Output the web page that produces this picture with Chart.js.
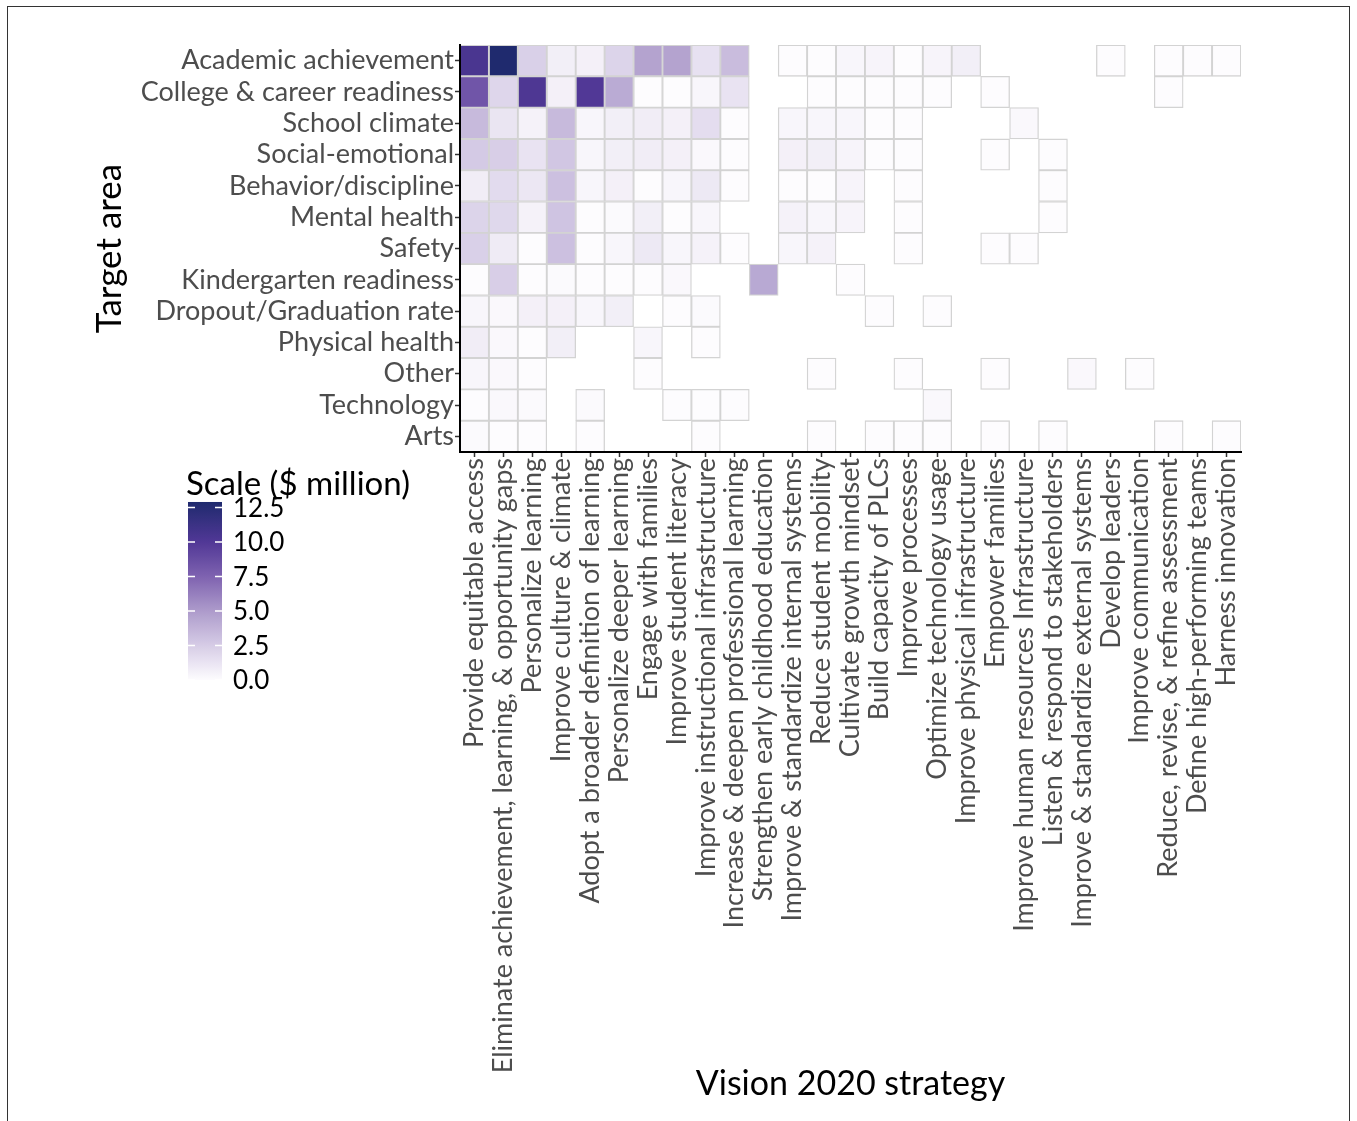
<!DOCTYPE html>
<html>
<head>
<meta charset="utf-8">
<script src="https://cdn.jsdelivr.net/npm/chart.js@4.4.1/dist/chart.umd.min.js"></script>
<style>
  html, body { margin: 0; padding: 0; background: #fff; }
  #wrap { position: relative; width: 1357px; height: 1121px; overflow: hidden; }
  #frame { position: absolute; left: 7px; top: 6px; width: 1343px; height: 1140px;
           border: 1.5px solid #333; box-sizing: border-box; pointer-events: none; }
  canvas { position: absolute; left: 0; top: 0; }
</style>
</head>
<body>
<div id="wrap">
  <canvas id="heat" width="1357" height="1121"></canvas>
  <div id="frame"></div>
</div>
<script>
const strategies = [
  'Provide equitable access',
  'Eliminate achievement, learning, & opportunity gaps',
  'Personalize learning',
  'Improve culture & climate',
  'Adopt a broader definition of learning',
  'Personalize deeper learning',
  'Engage with families',
  'Improve student literacy',
  'Improve instructional infrastructure',
  'Increase & deepen professional learning',
  'Strengthen early childhood education',
  'Improve & standardize internal systems',
  'Reduce student mobility',
  'Cultivate growth mindset',
  'Build capacity of PLCs',
  'Improve processes',
  'Optimize technology usage',
  'Improve physical infrastructure',
  'Empower families',
  'Improve human resources Infrastructure',
  'Listen & respond to stakeholders',
  'Improve & standardize external systems',
  'Develop leaders',
  'Improve communication',
  'Reduce, revise, & refine assessment',
  'Define high-performing teams',
  'Harness innovation'
];

const targetAreas = [
  'Academic achievement', 'College & career readiness', 'School climate',
  'Social-emotional', 'Behavior/discipline', 'Mental health', 'Safety',
  'Kindergarten readiness', 'Dropout/Graduation rate', 'Physical health',
  'Other', 'Technology', 'Arts'
];

// $ million per strategy (same order as strategies), _ = no spending recorded
const _ = null;
const academic     = [10.4, 12.9, 2.3, 0.7, 0.6, 2.1, 4.6, 4.6, 1.4, 3.3, _, 0, 0, 0.3, 0.4, 0, 0.4, 0.7, _, _, _, _, 0, _, 0, 0, 0];
const college      = [8.3, 2.0, 10.2, 0.6, 10.0, 4.2, 0, 0, 0.3, 1.3, _, _, 0, 0, 0, 0, 0, _, 0, _, _, _, _, _, 0, _, _];
const climate      = [3.4, 1.2, 0.5, 3.4, 0.3, 0.7, 0.8, 0.6, 1.6, 0, _, 0.3, 0.3, 0.3, 0, 0, _, _, _, 0.2, _, _, _, _, _, _, _];
const socialEmo    = [2.6, 2.4, 1.3, 2.8, 0.3, 0.7, 0.8, 0.6, 0.2, 0, _, 0.6, 0.7, 0.4, 0, 0, _, _, 0, _, 0, _, _, _, _, _, _];
const behavior     = [0.8, 1.7, 1.1, 3.1, 0.3, 0.6, 0, 0.3, 1.0, 0, _, 0, 0, 0.4, _, 0, _, _, _, _, 0, _, _, _, _, _, _];
const mental       = [2.1, 1.9, 0.5, 2.9, 0, 0.1, 0.7, 0, 0.3, _, _, 0.5, 0.3, 0.4, _, 0, _, _, _, _, 0, _, _, _, _, _, _];
const safety       = [2.3, 0.9, 0, 3.1, 0, 0.3, 1.0, 0.3, 0.5, 0, _, 0.3, 0.5, _, _, 0, _, _, 0, 0, _, _, _, _, _, _, _];
const kindergarten = [0, 2.4, 0, 0.1, 0, 0, 0, 0.2, _, _, 4.3, _, _, 0, _, _, _, _, _, _, _, _, _, _, _, _, _];
const dropout      = [0.3, 0.2, 0.6, 0.6, 0.3, 0.7, _, 0, 0.1, _, _, _, _, _, 0, _, 0, _, _, _, _, _, _, _, _, _, _];
const physical     = [0.8, 0.2, 0, 0.7, _, _, 0.3, _, 0, _, _, _, _, _, _, _, _, _, _, _, _, _, _, _, _, _, _];
const other        = [0.3, 0.2, 0, _, _, _, 0, _, _, _, _, _, 0, _, _, 0, _, _, 0, _, _, 0.2, _, 0, _, _, _];
const technology   = [0, 0.2, 0.1, _, 0.1, _, _, 0, 0, 0, _, _, _, _, _, _, 0.2, _, _, _, _, _, _, _, _, _, _];
const arts         = [0.1, 0, 0, _, 0, _, _, _, 0, _, _, _, 0, _, 0, 0, 0, _, 0, _, 0, _, _, _, 0, _, 0];

const rowSeries = [academic, college, climate, socialEmo, behavior, mental, safety,
                   kindergarten, dropout, physical, other, technology, arts];

const scaleTicks = [0, 2.5, 5, 7.5, 10, 12.5];

// fill gradient, low -> high
const colorStops = [
  [0, '#fdfcfe'], [2.5, '#d6cce6'], [5, '#ad9bcb'],
  [7.5, '#7e62b0'], [10, '#513896'], [12.9, '#1f2a6e']
];

function hexRgb(h) {
  return [1, 3, 5].map(i => parseInt(h.slice(i, i + 2), 16));
}
function fillFor(v) {
  for (let i = 1; i < colorStops.length; i++) {
    const [v0, c0] = colorStops[i - 1];
    const [v1, c1] = colorStops[i];
    if (v <= v1 || i === colorStops.length - 1) {
      const t = Math.max(0, Math.min(1, (v - v0) / (v1 - v0)));
      const a = hexRgb(c0), b = hexRgb(c1);
      const m = a.map((x, k) => Math.round(x + (b[k] - x) * t));
      return `rgb(${m[0]},${m[1]},${m[2]})`;
    }
  }
}

const maxVal = Math.max(...rowSeries.flat().filter(v => v !== null));

const datasets = rowSeries.map((vals, r) => ({
  label: targetAreas[r],
  data: vals.map(v => v === null ? null : [r, r + 1]),
  backgroundColor: vals.map(v => v === null ? 'rgba(0,0,0,0)' : fillFor(v)),
  borderColor: '#d3d3d3',
  borderWidth: 1.3,
  borderSkipped: false,
  barPercentage: 1,
  categoryPercentage: 1,
  grouped: false
}));

// colour bar legend, drawn beside the x labels like ggplot does
const colorBar = {
  id: 'colorBar',
  afterDraw(chart) {
    const ctx = chart.ctx;
    const x0 = 188, w = 34, yZero = 680, perUnit = 13.8;
    const yTop = yZero - maxVal * perUnit;
    ctx.save();
    ctx.fillStyle = '#000';
    ctx.font = '33px Lato';
    ctx.textBaseline = 'middle';
    ctx.textAlign = 'left';
    ctx.fillText('Scale ($ million)', 186, 484);

    const g = ctx.createLinearGradient(0, yZero, 0, yTop);
    for (let v = 0; v <= maxVal; v += maxVal / 40) {
      g.addColorStop(Math.min(1, v / maxVal), fillFor(v));
    }
    g.addColorStop(1, fillFor(maxVal));
    ctx.fillStyle = g;
    ctx.fillRect(x0, yTop, w, yZero - yTop);

    ctx.strokeStyle = '#fff';
    ctx.lineWidth = 1.5;
    ctx.font = '26px Lato';
    ctx.fillStyle = '#000';
    scaleTicks.forEach(t => {
      const y = yZero - t * perUnit;
      ctx.beginPath();
      ctx.moveTo(x0, y); ctx.lineTo(x0 + 7, y);
      ctx.moveTo(x0 + w - 7, y); ctx.lineTo(x0 + w, y);
      ctx.stroke();
      ctx.fillText(t.toFixed(1), 233, y + 1);
    });
    ctx.restore();
  }
};

new Chart(document.getElementById('heat'), {
  type: 'bar',
  data: { labels: strategies, datasets: datasets },
  plugins: [colorBar],
  options: {
    responsive: false,
    animation: false,
    layout: { padding: { left: 7, top: 45, right: 116, bottom: 0 } },
    plugins: { legend: { display: false }, tooltip: { enabled: false } },
    scales: {
      x: {
        type: 'category',
        offset: true,
        afterFit: s => { s.height = 669; },
        grid: { display: true, offset: false, drawOnChartArea: false, tickLength: 5, tickColor: '#333', tickWidth: 1.5 },
        border: { display: true, color: '#000', width: 2, z: 1 },
        ticks: { autoSkip: false, minRotation: 90, maxRotation: 90, padding: 1,
                 color: '#4d4d4d', font: { family: 'Lato', size: 27 } },
        title: { display: true, text: 'Vision 2020 strategy', color: '#000',
                 font: { family: 'Lato', size: 34 }, padding: { top: 0, bottom: 17 } }
      },
      y: {
        type: 'linear',
        min: 0,
        max: targetAreas.length,
        reverse: true,
        afterFit: s => { s.width = 453; },
        afterBuildTicks: s => { s.ticks = targetAreas.map((_, i) => ({ value: i + 0.5 })); },
        grid: { display: true, drawOnChartArea: false, tickLength: 5, tickColor: '#333', tickWidth: 1.5 },
        border: { display: true, color: '#000', width: 2, z: 1 },
        ticks: { autoSkip: false, padding: 1, color: '#4d4d4d',
                 font: { family: 'Lato', size: 27 },
                 callback: (v, i) => targetAreas[i] },
        title: { display: true, text: 'Target area', color: '#000',
                 font: { family: 'Lato', size: 35 }, padding: { top: 82, bottom: 0 } }
      }
    }
  }
});
</script>
</body>
</html>
